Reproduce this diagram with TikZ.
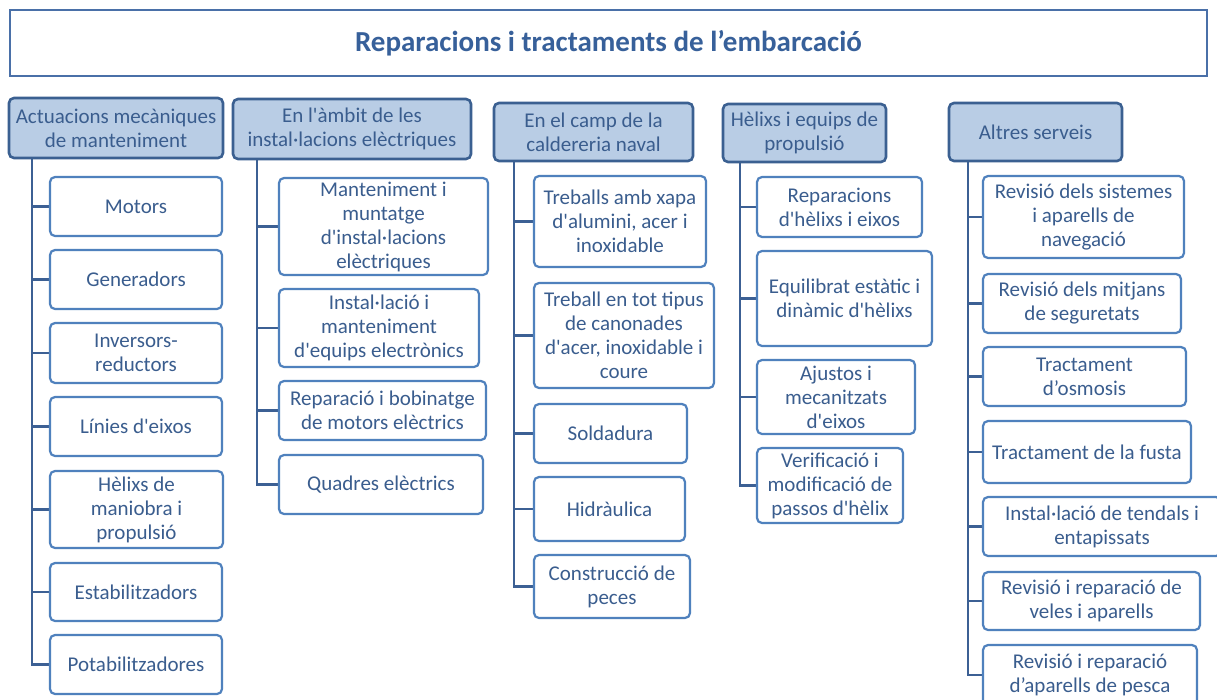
\documentclass[tikz,border=0pt]{standalone}
\usepackage{fontspec}
\setmainfont{Carlito}[Ligatures=TeXOff]
\usetikzlibrary{backgrounds}
\definecolor{hdrfill}{HTML}{B9CDE5}
\definecolor{hdrdraw}{HTML}{3B6091}
\definecolor{chdraw}{HTML}{4F81BD}
\definecolor{txt}{HTML}{3A5D8E}
\definecolor{conncol}{HTML}{3C6094}
\definecolor{ttl}{HTML}{37609A}
\definecolor{ttldraw}{HTML}{4A70A8}
\newcommand\bx[7]{\node[#2,minimum width=#5pt-#3pt,minimum height=#6pt-#4pt] (#1) at ({(#3+#5)/2},{(#4+#6)/2}) {#7};}
\tikzset{
  base/.style={rectangle,rounded corners=5pt,align=center,inner sep=0pt,outer sep=0pt,text=txt,font=\fontsize{21}{24}\selectfont},
  hdr/.style={base,fill=hdrfill,draw=hdrdraw,line width=2.6pt},
  child/.style={base,fill=white,draw=chdraw,line width=2.2pt},
  titlebox/.style={rectangle,draw=ttldraw,line width=2pt,inner sep=0pt,outer sep=0pt,text=ttl,font=\fontsize{29}{34}\selectfont\bfseries},
  conn/.style={draw=conncol,line width=2.6pt}
}
\begin{document}
\begin{tikzpicture}[x=1pt,y=-1pt]
\useasboundingbox (0,0) rectangle (1217,699);
\clip (0,0) rectangle (1217,699);
\bx{title}{titlebox}{10}{10}{1207}{76}{Reparacions i tractaments de l’embarcació}
% column 1
\bx{h1}{hdr}{9}{98}{223}{158}{Actuacions mecàniques\\de manteniment}
\bx{a1}{child}{50}{177}{222}{236}{Motors}
\bx{a2}{child}{50}{250}{222}{309}{Generadors}
\bx{a3}{child}{50}{323}{222}{383}{Inversors-\\reductors}
\bx{a4}{child}{50}{397}{222}{456}{Línies d'eixos}
\bx{a5}{child}{50}{471}{223}{548}{Hèlixs de\\maniobra i\\propulsió}
\bx{a6}{child}{50}{563}{222}{621}{Estabilitzadors}
\bx{a7}{child}{50}{635}{222}{694}{Potabilitzadores}
% column 2
\bx{h2}{hdr}{233}{99}{471}{159}{En l'àmbit de les\\instal·lacions elèctriques}
\bx{b1}{child}{279}{178}{488}{275}{Manteniment i\\muntatge\\d'instal·lacions\\elèctriques}
\bx{b2}{child}{279}{289}{479}{367}{Instal·lació i\\manteniment\\d'equips electrònics}
\bx{b3}{child}{279}{381}{486}{440}{Reparació i bobinatge\\de motors elèctrics}
\bx{b4}{child}{279}{455}{483}{514}{Quadres elèctrics}
% column 3
\bx{h3}{hdr}{494}{103}{693}{161}{En el camp de la\\caldereria naval}
\bx{c1}{child}{534}{176}{706}{267}{Treballs amb xapa\\d'alumini, acer i\\inoxidable}
\bx{c2}{child}{534}{283}{714}{388}{Treball en tot tipus\\de canonades\\d'acer, inoxidable i\\coure}
\bx{c3}{child}{534}{404}{687}{463}{Soldadura}
\bx{c4}{child}{534}{477}{685}{541}{Hidràulica}
\bx{c5}{child}{534}{555}{690}{618}{Construcció de\\peces}
% column 4
\bx{h4}{hdr}{723}{104}{886}{162}{Hèlixs i equips de\\propulsió}
\bx{d1}{child}{757}{177}{922}{237}{Reparacions\\d'hèlixs i eixos}
\bx{d2}{child}{757}{251}{932}{346}{Equilibrat estàtic i\\dinàmic d'hèlixs}
\bx{d3}{child}{757}{360}{915}{434}{Ajustos i\\mecanitzats\\d'eixos}
\bx{d4}{child}{757}{448}{903}{523}{Verificació i\\modificació de\\passos d'hèlix}
% column 5
\bx{h5}{hdr}{949}{103}{1122}{161}{Altres serveis}
\bx{e1}{child}{983}{176}{1184}{258}{Revisió dels sistemes\\i aparells de\\navegació}
\bx{e2}{child}{983}{274}{1181}{333}{Revisió dels mitjans\\de seguretats}
\bx{e3}{child}{983}{347}{1186}{406}{Tractament\\d’osmosis}
\bx{e4}{child}{983}{421}{1191}{483}{Tractament de la fusta}
\bx{e5}{child}{983}{497}{1221}{556}{Instal·lació de tendals i\\entapissats}
\bx{e6}{child}{983}{572}{1200}{630}{Revisió i reparació de\\veles i aparells}
\bx{e7}{child}{983}{645}{1197}{705}{Revisió i reparació\\d’aparells de pesca}
% spines
\coordinate (v1) at (32,0);
\coordinate (v2) at (257,0);
\coordinate (v3) at (514,0);
\coordinate (v4) at (740,0);
\coordinate (v5) at (968,0);
\begin{scope}[on background layer]
\fill[white] (0,0) rectangle (1217,699);
\draw[conn] (v1 |- h1.south) |- (a7.west);
\foreach \n in {a1,a2,a3,a4,a5,a6} \draw[conn] (v1 |- \n.west) -- (\n.west);
\draw[conn] (v2 |- h2.south) |- (b4.west);
\foreach \n in {b1,b2,b3} \draw[conn] (v2 |- \n.west) -- (\n.west);
\draw[conn] (v3 |- h3.south) |- (c5.west);
\foreach \n in {c1,c2,c3,c4} \draw[conn] (v3 |- \n.west) -- (\n.west);
\draw[conn] (v4 |- h4.south) |- (d4.west);
\foreach \n in {d1,d2,d3} \draw[conn] (v4 |- \n.west) -- (\n.west);
\draw[conn] (v5 |- h5.south) |- (e7.west);
\foreach \n in {e1,e2,e3,e4,e5,e6} \draw[conn] (v5 |- \n.west) -- (\n.west);
\end{scope}
\end{tikzpicture}
\end{document}
